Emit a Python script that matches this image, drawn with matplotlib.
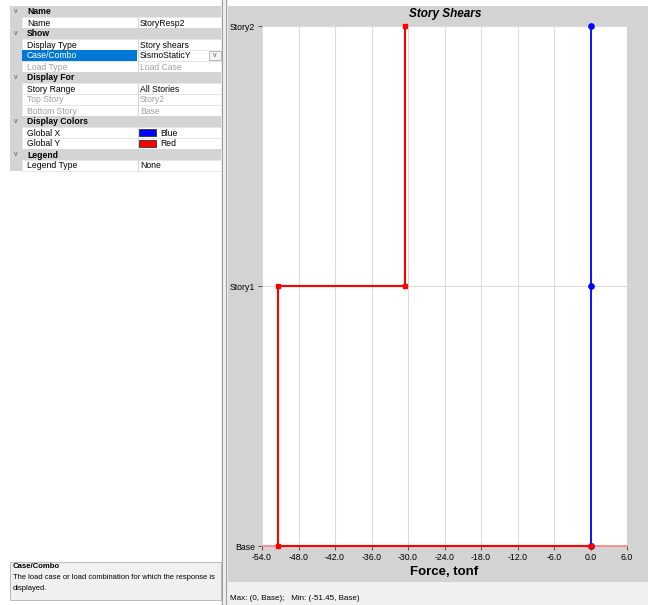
import matplotlib
matplotlib.use("Agg")
import matplotlib.pyplot as plt
from matplotlib.patches import Rectangle

plt.rcParams['font.family'] = ['Liberation Sans', 'DejaVu Sans']

# story response data
stories = ['Base', 'Story1', 'Story2']
story_level = [0, 1, 2]
shear_x = [0.0, 0.0, 0.0]            # Global X (blue), per story level
shear_y_top = [-30.5, -51.45]        # Global Y shear, Story2->Story1 and Story1->Base
x_ticks = [-54, -48, -42, -36, -30, -24, -18, -12, -6, 0, 6]

# property grid rows: (kind, name, value)
grid_rows = [
    ('head', 'Name', ''),
    ('prop', 'Name', 'StoryResp2'),
    ('head', 'Show', ''),
    ('prop', 'Display Type', 'Story shears'),
    ('sel', 'Case/Combo', 'SismoStaticY'),
    ('dis', 'Load Type', 'Load Case'),
    ('head', 'Display For', ''),
    ('prop', 'Story Range', 'All Stories'),
    ('dis', 'Top Story', 'Story2'),
    ('dis', 'Bottom Story', 'Base'),
    ('head', 'Display Colors', ''),
    ('color', 'Global X', 'Blue'),
    ('color', 'Global Y', 'Red'),
    ('head', 'Legend', ''),
    ('prop', 'Legend Type', 'None'),
]
swatch = {'Blue': '#0000ff', 'Red': '#ff0000'}

W, H = 648, 605
fig = plt.figure(figsize=(W / 100, H / 100), dpi=100)

# background canvas in pixel coordinates
bg = fig.add_axes([0, 0, 1, 1])
bg.set_xlim(0, W)
bg.set_ylim(H, 0)
bg.axis('off')

def rect(x0, y0, x1, y1, fc, ec='none', lw=0.8, z=1):
    bg.add_patch(Rectangle((x0, y0), x1 - x0, y1 - y0, fc=fc, ec=ec, lw=lw, zorder=z))

fs = 6.2
rect(0, 0, W, H, 'white', z=0)

# property grid
row_h = 11
y = 6
for kind, name, val in grid_rows:
    if kind == 'head':
        rect(10, y, 222, y + row_h, '#d4d4d4')
        bg.text(14, y + row_h / 2, 'v', fontsize=5, color='#555555', va='center', zorder=3)
        bg.text(27, y + row_h / 2 + 0.5, name, fontsize=fs, fontweight='bold', va='center', zorder=3)
    else:
        rect(10, y, 22, y + row_h, '#d4d4d4')
        rect(22, y, 222, y + row_h, 'white', ec='#e3e3e3', lw=0.6)
        bg.plot([137.5, 137.5], [y, y + row_h], color='#d0d0d0', lw=0.6, zorder=2)
        tc = '#000000'
        if kind == 'sel':
            rect(22, y, 137, y + row_h, '#0078d7', z=2)
            tc = 'white'
            rect(209, y + 1, 221, y + row_h - 1, '#f4f4f4', ec='#a0a0a0', lw=0.5, z=2)
            bg.text(215, y + row_h / 2, 'v', fontsize=5, color='#606060', ha='center', va='center', zorder=3)
        if kind == 'dis':
            tc = '#a0a0a0'
        bg.text(27, y + row_h / 2 + 0.5, name, fontsize=fs, color=tc, va='center', zorder=3)
        vc = '#a0a0a0' if kind == 'dis' else '#000000'
        vx = 140
        if kind == 'color':
            rect(139, y + 2, 156, y + row_h - 2, swatch[val], ec='#303030', lw=0.6, z=3)
            vx = 160
        bg.text(vx, y + row_h / 2 + 0.5, val, fontsize=fs, color=vc, va='center', zorder=3)
    y += row_h

# splitter between grid and chart
rect(221, 0, 228, H, '#f0f0f0', z=1)
bg.plot([222, 222], [0, H], color='#a0a0a0', lw=0.8, zorder=2)
bg.plot([226, 226], [0, H], color='#a0a0a0', lw=0.8, zorder=2)

# description box
rect(10, 562, 221, 600, '#f0f0f0', ec='#b0b0b0', lw=0.6)
bg.text(13, 567, 'Case/Combo', fontsize=5.6, fontweight='bold', va='center', zorder=3)
bg.text(13, 577.5, 'The load case or load combination for which the response is', fontsize=5.4, va='center', zorder=3)
bg.text(13, 588, 'displayed.', fontsize=5.4, va='center', zorder=3)

# chart background and status bar
rect(228, 6, W, 582, '#d3d3d3')
rect(228, 582, W, H, '#f0f0f0')
bg.text(230, 598, 'Max: (0, Base);   Min: (-51.45, Base)', fontsize=5.8, va='center', zorder=3)

# chart axes
ax = fig.add_axes([262 / W, 1 - 546 / H, (627 - 262) / W, (546 - 26) / H])
ax.set_facecolor('white')
ax.set_xlim(x_ticks[0], x_ticks[-1])
ax.set_ylim(story_level[0], story_level[-1])
ax.set_xticks(x_ticks)
ax.set_xticklabels(['%.1f' % t for t in x_ticks], fontsize=6.3)
ax.set_yticks(story_level)
ax.set_yticklabels(stories, fontsize=6.3)
ax.tick_params(length=3, width=0.6, color='#404040', pad=2)
ax.grid(True, color='#dcdcdc', lw=0.8)
for s in ax.spines.values():
    s.set_visible(False)

# Global Y step profile (red)
ry_x = [shear_y_top[0], shear_y_top[0], shear_y_top[1], shear_y_top[1], shear_x[0]]
ry_y = [story_level[2], story_level[1], story_level[1], story_level[0], story_level[0]]
ax.axhline(story_level[0], color='#ff8080', lw=1.2, clip_on=False, zorder=2)
ax.plot(ry_x, ry_y, color='red', lw=1.5, marker='s', ms=3.5, clip_on=False, zorder=4)

# Global X profile (blue)
ax.plot(shear_x, story_level, color='blue', lw=1.3, marker='o', ms=3.8, clip_on=False, zorder=3)
ax.plot([shear_x[0]], [story_level[0]], color='red', marker='s', ms=3.5, clip_on=False, zorder=5)

fig.text(445 / W, 1 - 14 / H, 'Story Shears', fontsize=8.5, fontweight='bold', style='italic',
         ha='center', va='center')
ax.set_xlabel('Force, tonf', fontsize=9.5, fontweight='bold', labelpad=3)

fig.savefig('out.png', dpi=100)
